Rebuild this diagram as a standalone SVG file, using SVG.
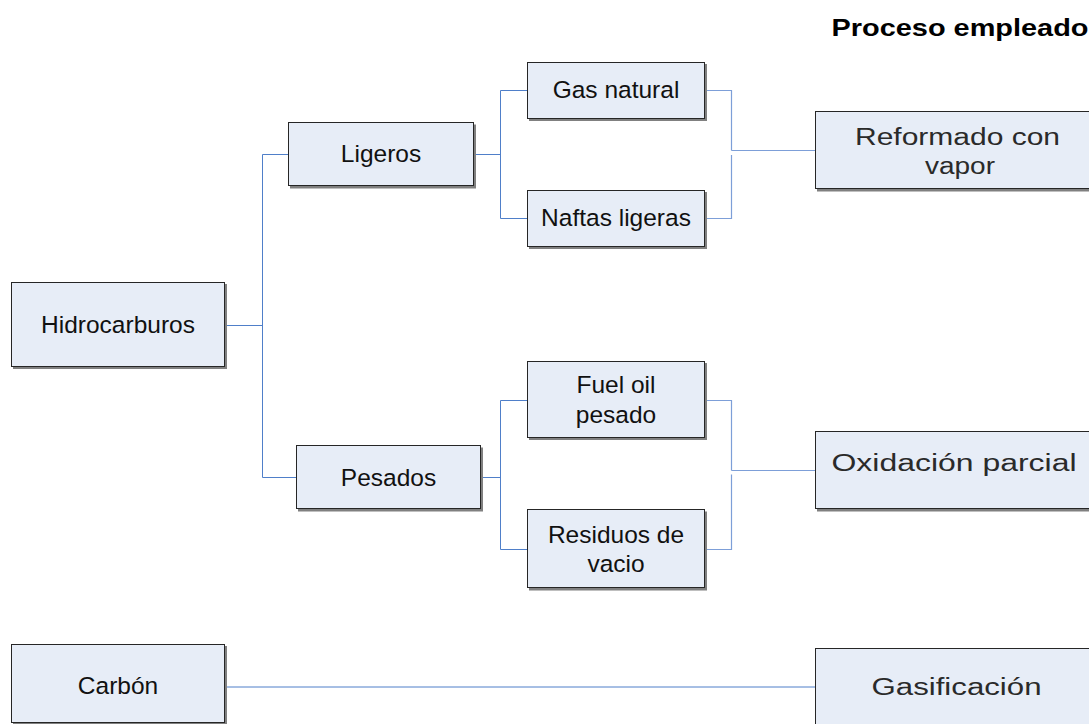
<svg xmlns="http://www.w3.org/2000/svg" width="1089" height="724" viewBox="0 0 1089 724">
<defs>
<style>
.sh{fill:#808080}
.bx{fill:#e7edf7;stroke:#262626;stroke-width:1}
.t{font-family:"Liberation Sans",Arial,sans-serif;font-size:24.5px;fill:#111;text-anchor:middle}
.r{font-family:"Liberation Sans",Arial,sans-serif;font-size:23px;fill:#2a2a2a}
.c{fill:none;stroke:#4f7fc9;stroke-width:1}
.c2{fill:none;stroke:#7d9fd8;stroke-width:1.2}
</style>
</defs>
<rect width="1089" height="724" fill="#fff"/>
<text x="831.5" y="36" font-family="Liberation Sans,Arial,sans-serif" font-size="24.5" font-weight="bold" fill="#000" textLength="257" lengthAdjust="spacingAndGlyphs">Proceso empleado</text>
<g id="connectors">
<path class="c" d="M225 325.5H262.5M262.5 154.5V477.5M262.5 154.5H288M262.5 477.5H296"/>
<path class="c" d="M474 154.5H500.5M500.5 90.5V218.5M500.5 90.5H527M500.5 218.5H527"/>
<path class="c" d="M481 477.5H500.5M500.5 400.5V549.5M500.5 400.5H527M500.5 549.5H527"/>
<path class="c2" d="M705 90.5H731.5V150.5M731.5 150.5H815M731.5 155V218.5H705"/>
<path class="c2" d="M705 400.5H731.5V470.5M731.5 470.5H815M731.5 474.5V549.5H705"/>
<path class="c" d="M225 687H815"/>
</g>
<g id="hidrocarburos"><rect class="sh" x="13" y="284" width="214" height="85"/><rect class="bx" x="11.5" y="282.5" width="213" height="84"/><text class="t" x="118" y="333.3">Hidrocarburos</text></g>
<g id="ligeros"><rect class="sh" x="290" y="124.5" width="186" height="64"/><rect class="bx" x="288.5" y="122.5" width="185" height="63"/><text class="t" x="381" y="162">Ligeros</text></g>
<g id="gas-natural"><rect class="sh" x="529" y="64" width="178" height="57"/><rect class="bx" x="527.5" y="62.5" width="177" height="56"/><text class="t" x="616" y="98">Gas natural</text></g>
<g id="naftas"><rect class="sh" x="529" y="192" width="178" height="57"/><rect class="bx" x="527.5" y="190.5" width="177" height="56"/><text class="t" x="616" y="226">Naftas ligeras</text></g>
<g id="pesados"><rect class="sh" x="298" y="447.5" width="185" height="64"/><rect class="bx" x="296.5" y="445.5" width="184" height="63"/><text class="t" x="388.5" y="485.5">Pesados</text></g>
<g id="fuel-oil"><rect class="sh" x="529" y="363" width="178" height="77"/><rect class="bx" x="527.5" y="361.5" width="177" height="76"/><text class="t" x="616" y="392.5">Fuel oil</text><text class="t" x="616" y="422.5">pesado</text></g>
<g id="residuos"><rect class="sh" x="529" y="511.5" width="178" height="79"/><rect class="bx" x="527.5" y="509.5" width="177" height="78"/><text class="t" x="616" y="542.5">Residuos de</text><text class="t" x="616" y="572">vacio</text></g>
<g id="reformado"><rect class="sh" x="817" y="113.5" width="290" height="78"/><rect class="bx" x="815.5" y="111.5" width="290" height="77"/><text class="r" x="855" y="144.5" textLength="205" lengthAdjust="spacingAndGlyphs">Reformado con</text><text class="r" x="925" y="173.5" textLength="70" lengthAdjust="spacingAndGlyphs">vapor</text></g>
<g id="oxidacion"><rect class="sh" x="817" y="433.5" width="290" height="78"/><rect class="bx" x="815.5" y="431.5" width="290" height="77"/><text class="r" x="831.5" y="471" textLength="245" lengthAdjust="spacingAndGlyphs">Oxidación parcial</text></g>
<g id="carbon"><rect class="sh" x="13" y="646" width="214" height="80"/><rect class="bx" x="11.5" y="644.5" width="213" height="78"/><text class="t" x="118" y="694.3">Carbón</text></g>
<g id="gasificacion"><rect class="sh" x="817" y="650" width="290" height="80"/><rect class="bx" x="815.5" y="648.5" width="290" height="80"/><text class="r" x="871.5" y="694.5" textLength="170" lengthAdjust="spacingAndGlyphs">Gasificación</text></g>
</svg>
